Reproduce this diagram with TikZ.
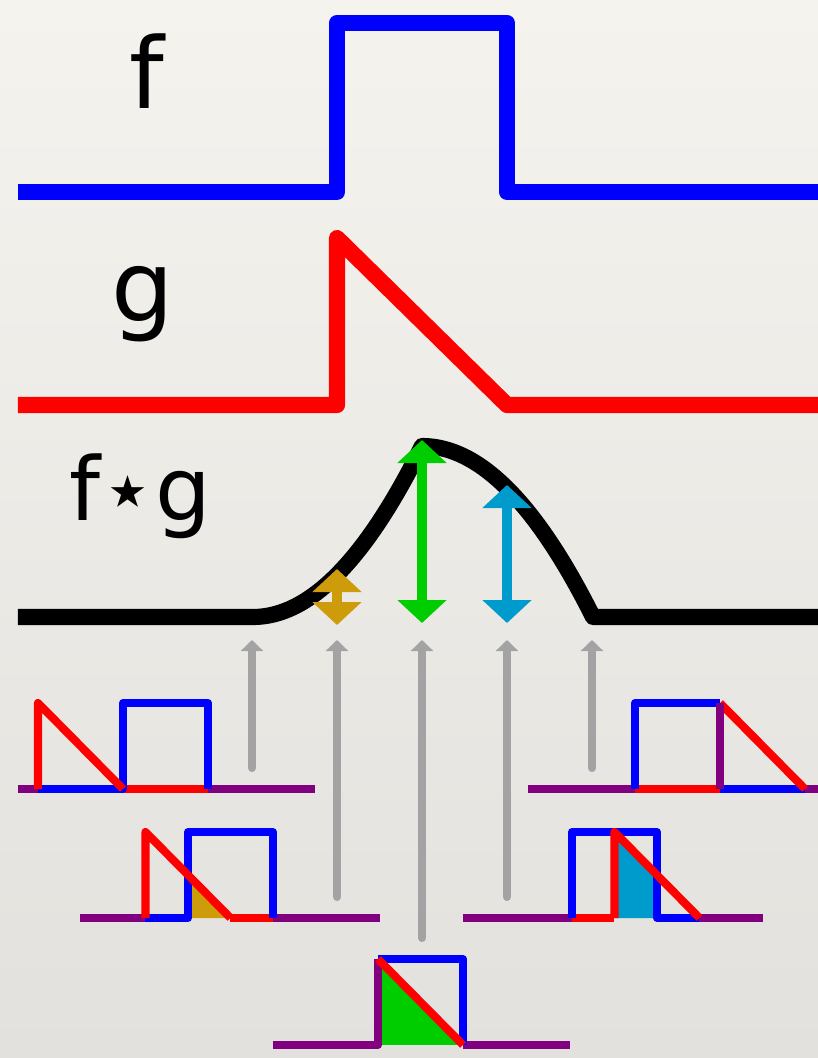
\documentclass[tikz,border=0pt]{standalone}
\usepackage{fontspec}
\setmainfont{DejaVu Sans}
\usepackage{xcolor}
\usetikzlibrary{arrows.meta}
\definecolor{bgtop}{RGB}{245,243,238}
\definecolor{bgbot}{RGB}{227,225,221}
\definecolor{fblue}{RGB}{0,0,255}
\definecolor{gred}{RGB}{255,0,0}
\definecolor{zeropurple}{RGB}{128,0,128}
\definecolor{ochre}{RGB}{206,155,10}
\definecolor{skyblue}{RGB}{0,155,205}
\definecolor{brightgreen}{RGB}{0,205,0}
\definecolor{probegray}{RGB}{163,163,163}

\begin{document}
\begin{tikzpicture}[>=Stealth,
  fline/.style={line width=4.6pt,line join=round},
  mini/.style={line width=2.3pt,line join=round},
  probe/.style={probegray,line width=2.3pt,line cap=round,-{Triangle[length=0.11cm,width=0.22cm]}},
  valarrow/.style={line width=2.8pt,{Triangle[length=0.23cm,width=0.48cm]}-{Triangle[length=0.23cm,width=0.48cm]}},
  lbl/.style={inner sep=0pt,anchor=base}]
\shade[top color=bgtop,bottom color=bgbot] (0,0) rectangle (8.18,10.58);
\useasboundingbox (0,0) rectangle (8.18,10.58);
% the two functions and their correlation
\draw[fline,fblue] (0.18,8.66)--(3.37,8.66)--(3.37,10.35)--(5.07,10.35)--(5.07,8.66)--(8.18,8.66);
\draw[fline,gred] (0.18,6.53)--(3.37,6.53)--(3.37,8.20)--(5.07,6.53)--(8.18,6.53);
\draw[fline,black] (0.18,4.41)--(2.53,4.41) .. controls (3.093,4.41) and (3.657,4.98) .. (4.22,6.12)
  .. controls (4.79,6.12) and (5.36,5.55) .. (5.93,4.41)--(8.18,4.41);
\node[lbl,font=\fontsize{28}{30}\selectfont] (flab) at (1.47,9.50) {f};
\node[lbl,font=\fontsize{28}{30}\selectfont] (glab) at (1.43,7.37) {g};
\node[lbl,font=\fontsize{25}{27}\selectfont] (fglab) at (1.40,5.38) {f⋆g};
% values at the sample shifts
\coordinate (v2) at (3.37,4.33); \coordinate (w2) at (3.37,4.89);
\coordinate (v3) at (4.22,4.35); \coordinate (w3) at (4.22,6.18);
\coordinate (v4) at (5.07,4.35); \coordinate (w4) at (5.07,5.73);
\draw[valarrow,ochre] (v2)--(w2);
\draw[valarrow,brightgreen] (v3)--(w3);
\draw[valarrow,skyblue] (v4)--(w4);
% probes from the small sketches
\coordinate (p1) at (2.52,2.90); \coordinate (q1) at (2.52,4.18);
\coordinate (p2) at (3.37,1.61); \coordinate (q2) at (3.37,4.18);
\coordinate (p3) at (4.22,1.20); \coordinate (q3) at (4.22,4.18);
\coordinate (p4) at (5.07,1.61); \coordinate (q4) at (5.07,4.18);
\coordinate (p5) at (5.92,2.90); \coordinate (q5) at (5.92,4.18);
\draw[probe] (p1)--(q1); \draw[probe] (p2)--(q2); \draw[probe] (p3)--(q3);
\draw[probe] (p4)--(q4); \draw[probe] (p5)--(q5);
% sketch 1, no overlap (left)
\draw[mini,zeropurple] (0.18,2.69)--(3.15,2.69);
\draw[mini,gred] (1.23,2.69)--(2.08,2.69);
\draw[mini,fblue] (0.38,2.69)--(1.23,2.69)--(1.23,3.55)--(2.08,3.55)--(2.08,2.69);
\draw[mini,gred] (0.38,2.69)--(0.38,3.55)--(1.23,2.69);
% sketch 2, small overlap
\fill[ochre] (1.88,1.40)--(1.88,1.83)--(2.305,1.40)--cycle;
\draw[mini,zeropurple] (0.80,1.40)--(1.455,1.40); \draw[mini,zeropurple] (2.73,1.40)--(3.80,1.40);
\draw[mini,gred] (2.305,1.40)--(2.73,1.40);
\draw[mini,fblue] (1.455,1.40)--(1.88,1.40)--(1.88,2.26)--(2.73,2.26)--(2.73,1.40);
\draw[mini,gred] (1.455,1.40)--(1.455,2.26)--(2.305,1.40);
% sketch 3, full overlap
\fill[brightgreen] (3.78,0.13)--(3.78,0.99)--(4.63,0.13)--cycle;
\draw[mini,zeropurple] (2.73,0.13)--(3.78,0.13)--(3.78,0.99); \draw[mini,zeropurple] (4.63,0.13)--(5.70,0.13);
\draw[mini,fblue] (3.78,0.99)--(4.63,0.99)--(4.63,0.13);
\draw[mini,gred] (3.78,0.99)--(4.63,0.13);
% sketch 4, half overlap
\fill[skyblue] (6.145,1.40)--(6.145,2.26)--(6.57,1.83)--(6.57,1.40)--cycle;
\draw[mini,zeropurple] (4.63,1.40)--(5.72,1.40); \draw[mini,zeropurple] (6.995,1.40)--(7.63,1.40);
\draw[mini,gred] (5.72,1.40)--(6.145,1.40);
\draw[mini,fblue] (5.72,1.40)--(5.72,2.26)--(6.57,2.26)--(6.57,1.40)--(6.995,1.40);
\draw[mini,gred] (6.145,1.40)--(6.145,2.26)--(6.995,1.40);
% sketch 5, no overlap (right)
\draw[mini,zeropurple] (5.28,2.69)--(8.18,2.69);
\draw[mini,gred] (6.35,2.69)--(7.20,2.69);
\draw[mini,fblue] (7.20,2.69)--(8.05,2.69);
\draw[mini,fblue] (6.35,2.69)--(6.35,3.55)--(7.20,3.55);
\draw[mini,gred] (7.20,3.55)--(8.05,2.69);
\draw[mini,zeropurple] (7.20,2.69)--(7.20,3.55);
\end{tikzpicture}
\end{document}
